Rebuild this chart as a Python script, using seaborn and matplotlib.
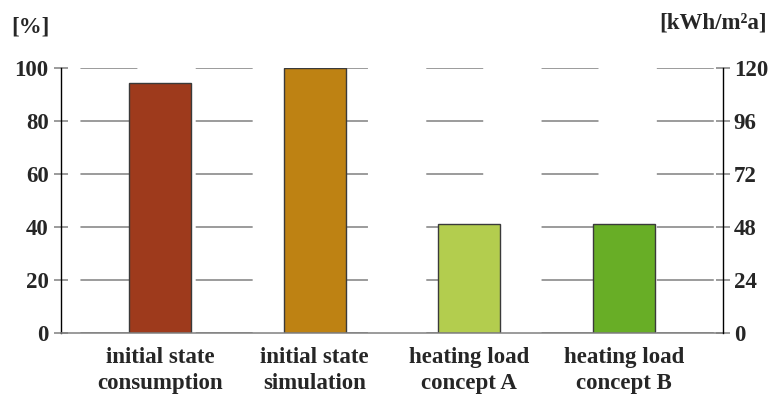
import numpy as np
import pandas as pd
import seaborn as sns
import matplotlib.pyplot as plt

# Dados do grafico
categorias = ['initial state\nconsumption', 'initial state\nsimulation',
              'heating load\nconcept A', 'heating load\nconcept B']
valores_pct = [94.2, 100, 41.1, 41.1]
cores = ['#9E3A1C', '#BE8213', '#B3CD4E', '#68AE26']
ticks_pct = [0, 20, 40, 60, 80, 100]
ticks_kwh = [0, 24, 48, 72, 96, 120]

sns.set_style('white')
plt.rcParams['font.family'] = ['Liberation Serif', 'DejaVu Serif']
plt.rcParams['font.weight'] = 'bold'
plt.rcParams['lines.scale_dashes'] = False

df = pd.DataFrame({'categoria': categorias, 'pct': valores_pct})

fig = plt.figure(figsize=(7.73, 3.95), dpi=100)
ax = fig.add_axes([0.079, 0.157, 0.856, 0.671])

sns.barplot(data=df, x='categoria', y='pct', hue='categoria', palette=cores,
            saturation=1, width=0.4, edgecolor='#3a3a3a', linewidth=1.0,
            legend=False, ax=ax)

ax.set_xlim(-0.64, 3.64)
ax.set_ylim(0, 100)
ax.set_yticks(ticks_pct)
ax.set_xlabel('')
ax.set_ylabel('')

# linhas de grade tracejadas (tracos longos)
ax.yaxis.grid(True, linestyle=(69, (41, 42)), color='#808080', linewidth=1.1)
ax.set_axisbelow(True)

for lado in ['top', 'right']:
    ax.spines[lado].set_visible(False)
ax.spines['left'].set_color('black')
ax.spines['left'].set_linewidth(1.0)
ax.spines['bottom'].set_color('#808080')
ax.spines['bottom'].set_linewidth(1.1)

ax.tick_params(axis='y', direction='inout', length=10, width=1.1, color='#808080',
               pad=4, labelsize=16.5)
ax.tick_params(axis='x', length=0, pad=10, labelsize=16.5)
for lbl in ax.get_xticklabels():
    lbl.set_linespacing(1.35)
    lbl.set_fontweight('bold')
for lbl in ax.get_yticklabels():
    lbl.set_fontweight('bold')

# eixo secundario em kWh/m2a
ax2 = ax.twinx()
ax2.set_ylim(0, 120)
ax2.set_yticks(ticks_kwh)
for lado in ['top', 'left', 'bottom']:
    ax2.spines[lado].set_visible(False)
ax2.spines['right'].set_color('black')
ax2.spines['right'].set_linewidth(1.0)
ax2.tick_params(axis='y', direction='inout', length=10, width=1.1, color='#808080',
                pad=3, labelsize=16.5)
for lbl in ax2.get_yticklabels():
    lbl.set_fontweight('bold')

fig.text(0.014, 0.932, '[%]', fontsize=16.5, fontweight='bold', ha='left', va='center')
fig.text(0.992, 0.943, '[kWh/m²a]', fontsize=16.5, fontweight='bold', ha='right', va='center')

plt.savefig('out.png', dpi=100)
